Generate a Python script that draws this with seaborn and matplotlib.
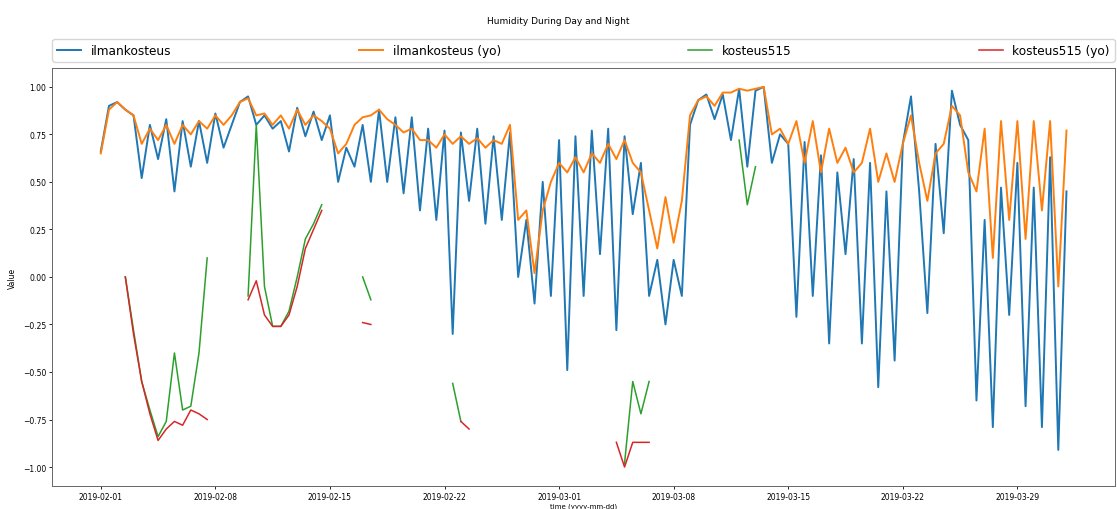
import numpy as np
import pandas as pd
import matplotlib
matplotlib.use("Agg")
import matplotlib.pyplot as plt
import matplotlib.dates as mdates
import seaborn as sns

titulo = "Humidity During Day and Night"

# 12 hour steps, 2019-02-01 00:00 .. 2019-04-01 00:00
times = pd.date_range("2019-02-01", periods=119, freq="12h")
tick_dates = pd.date_range("2019-02-01", "2019-03-29", freq="7D")

ilmankosteus = [
    0.66, 0.90, 0.92, 0.88, 0.85, 0.52, 0.80, 0.62, 0.83, 0.45,
    0.82, 0.58, 0.82, 0.60, 0.86, 0.68, 0.80, 0.92, 0.95, 0.80,
    0.85, 0.78, 0.82, 0.66, 0.89, 0.74, 0.87, 0.72, 0.85, 0.50,
    0.68, 0.58, 0.80, 0.50, 0.88, 0.50, 0.84, 0.44, 0.84, 0.35,
    0.78, 0.30, 0.77, -0.30, 0.76, 0.40, 0.78, 0.28, 0.74, 0.30,
    0.76, 0.00, 0.30, -0.14, 0.50, -0.10, 0.72, -0.49, 0.74, -0.10,
    0.77, 0.12, 0.78, -0.28, 0.74, 0.33, 0.60, -0.10, 0.09, -0.25,
    0.09, -0.10, 0.80, 0.93, 0.96, 0.83, 0.96, 0.72, 0.99, 0.58,
    0.98, 1.00, 0.60, 0.75, 0.70, -0.21, 0.71, -0.10, 0.64, -0.35,
    0.55, 0.12, 0.62, -0.35, 0.60, -0.58, 0.45, -0.44, 0.70, 0.95,
    0.45, -0.19, 0.70, 0.23, 0.98, 0.80, 0.72, -0.65, 0.30, -0.79,
    0.47, -0.20, 0.60, -0.68, 0.47, -0.79, 0.63, -0.91, 0.45,
]

ilmankosteus_yo = [
    0.65, 0.88, 0.92, 0.88, 0.85, 0.70, 0.78, 0.72, 0.80, 0.70,
    0.80, 0.75, 0.82, 0.78, 0.85, 0.80, 0.85, 0.92, 0.94, 0.85,
    0.86, 0.80, 0.85, 0.78, 0.88, 0.80, 0.85, 0.82, 0.78, 0.65,
    0.70, 0.80, 0.84, 0.85, 0.88, 0.83, 0.80, 0.76, 0.78, 0.72,
    0.72, 0.68, 0.75, 0.70, 0.74, 0.70, 0.73, 0.68, 0.72, 0.70,
    0.80, 0.30, 0.35, 0.02, 0.35, 0.50, 0.60, 0.55, 0.63, 0.55,
    0.65, 0.60, 0.70, 0.62, 0.72, 0.60, 0.55, 0.35, 0.15, 0.42,
    0.18, 0.40, 0.85, 0.93, 0.95, 0.90, 0.97, 0.97, 0.99, 0.98,
    0.99, 1.00, 0.75, 0.78, 0.70, 0.82, 0.60, 0.82, 0.55, 0.78,
    0.60, 0.68, 0.55, 0.60, 0.78, 0.50, 0.65, 0.50, 0.70, 0.85,
    0.60, 0.40, 0.65, 0.70, 0.90, 0.85, 0.55, 0.45, 0.78, 0.10,
    0.82, 0.30, 0.82, 0.20, 0.82, 0.35, 0.82, -0.05, 0.77,
]

# kosteus515 only has data in short runs: (first time index, values)
kosteus515_start = [3, 18, 32, 43, 64, 78]
kosteus515_runs = [
    [0.00, -0.28, -0.55, -0.70, -0.84, -0.76, -0.40, -0.70, -0.68, -0.40, 0.10],
    [-0.10, 0.80, -0.05, -0.26, -0.26, -0.18, 0.00, 0.20, 0.28, 0.38],
    [0.00, -0.12],
    [-0.56, -0.76],
    [-0.98, -0.55, -0.72, -0.55],
    [0.72, 0.38, 0.58],
]

kosteus515_yo_start = [3, 18, 32, 44, 63]
kosteus515_yo_runs = [
    [0.00, -0.30, -0.55, -0.72, -0.86, -0.80, -0.76, -0.78, -0.70, -0.72, -0.75],
    [-0.12, -0.02, -0.20, -0.26, -0.26, -0.20, -0.05, 0.15, 0.25, 0.35],
    [-0.24, -0.25],
    [-0.76, -0.80],
    [-0.87, -1.00, -0.87, -0.87, -0.87],
]


def runs_to_df(starts, runs):
    partes = []
    for k, (s, vals) in enumerate(zip(starts, runs)):
        partes.append(pd.DataFrame({"time": times[s:s + len(vals)],
                                    "value": vals, "seg": k}))
    return pd.concat(partes, ignore_index=True)


df = pd.DataFrame({"time": times,
                   "ilmankosteus": ilmankosteus,
                   "ilmankosteus (yo)": ilmankosteus_yo})
df_k = runs_to_df(kosteus515_start, kosteus515_runs)
df_ky = runs_to_df(kosteus515_yo_start, kosteus515_yo_runs)

colores = sns.color_palette("tab10")

fig = plt.figure(figsize=(11.17, 5.10), dpi=100)
ax = fig.add_axes([0.047, 0.045, 0.951, 0.82])

sns.lineplot(data=df, x="time", y="ilmankosteus", color=colores[0],
             lw=1.4, errorbar=None, label="ilmankosteus", ax=ax)
sns.lineplot(data=df, x="time", y="ilmankosteus (yo)", color=colores[1],
             lw=1.4, errorbar=None, label="ilmankosteus (yo)", ax=ax)
sns.lineplot(data=df_k, x="time", y="value", units="seg", estimator=None,
             color=colores[2], lw=1.1, label="kosteus515", ax=ax)
sns.lineplot(data=df_ky, x="time", y="value", units="seg", estimator=None,
             color=colores[3], lw=1.1, label="kosteus515 (yo)", ax=ax)

# one legend entry per series
h, l = ax.get_legend_handles_labels()
vistos = {}
for hh, ll in zip(h, l):
    if ll not in vistos:
        vistos[ll] = hh
ax.legend(list(vistos.values()), list(vistos.keys()), loc="lower left",
          bbox_to_anchor=(0, 1.015, 1, 0.05), mode="expand", ncol=4,
          borderaxespad=0, fontsize=8.7, fancybox=True)

ax.set_xticks(tick_dates)
ax.xaxis.set_major_formatter(mdates.DateFormatter("%Y-%m-%d"))
ax.tick_params(labelsize=5.5, length=2.5, width=0.6, pad=2)
for sp in ax.spines.values():
    sp.set_linewidth(0.7)
    sp.set_color("#666666")

ax.set_xlabel("time (yyyy-mm-dd)", fontsize=5, labelpad=1)
ax.set_ylabel("Value", fontsize=5.5, labelpad=4)
fig.suptitle(titulo, y=0.967, fontsize=6.5)

fig.savefig("out.png", dpi=100)
